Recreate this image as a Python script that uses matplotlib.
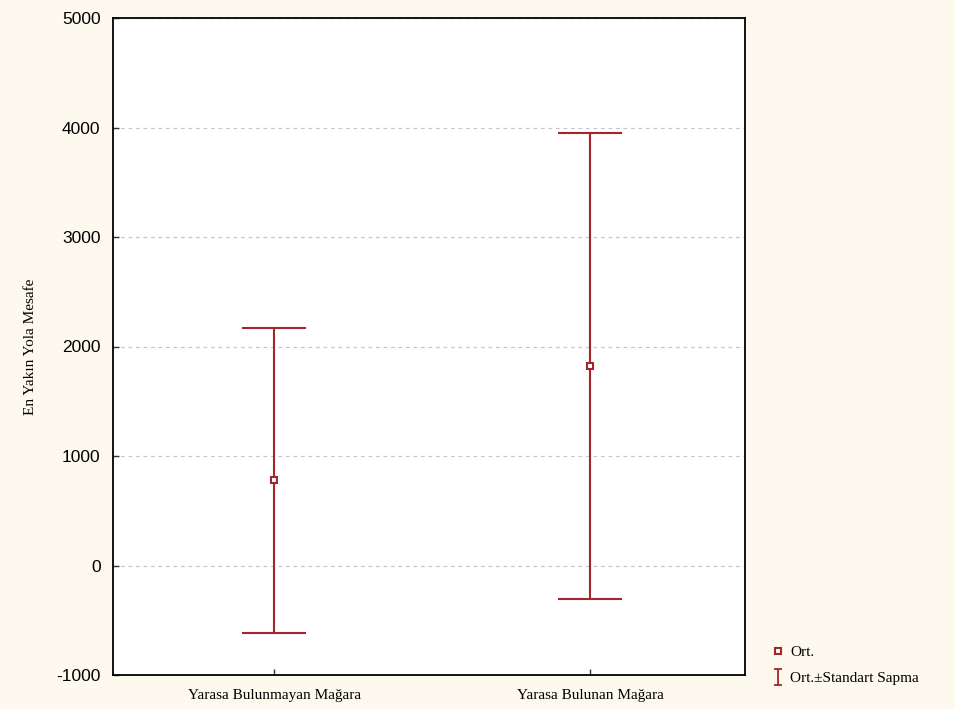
import matplotlib
matplotlib.use('Agg')
import matplotlib.pyplot as plt
from matplotlib.lines import Line2D
from matplotlib.path import Path

# group means and standard deviations
groups = ['Yarasa Bulunmayan Mağara', 'Yarasa Bulunan Mağara']
means = [780, 1818]
sds = [1393, 2128]
yticks = [-1000, 0, 1000, 2000, 3000, 4000, 5000]

RED = '#A3262A'
BG = '#FDF9EE'
SERIF = ['Liberation Serif', 'DejaVu Serif']
SANS = ['Liberation Sans', 'DejaVu Sans']

fig = plt.figure(figsize=(9.55, 7.09), dpi=100, facecolor=BG)
ax = fig.add_axes([113 / 955, 1 - 675 / 709, 632 / 955, 657 / 709])
ax.set_facecolor('white')

x = list(range(len(groups)))
ax.errorbar(x, means, yerr=sds, fmt='none', ecolor=RED, elinewidth=1.5,
            capsize=23, capthick=1.5, zorder=3)
ax.plot(x, means, ls='none', marker='s', ms=5, mfc='white', mec=RED, mew=1.5, zorder=4)

ax.set_xlim(-0.51, 1.49)
ax.set_ylim(-1000, 5000)
ax.set_yticks(yticks)
ax.set_yticklabels([str(v) for v in yticks], family=SANS, fontsize=12.5)
ax.set_xticks(x)
ax.set_xticklabels(groups, family=SERIF, fontsize=11)
ax.tick_params(axis='both', direction='in', length=4, width=1, color='#333333')
ax.tick_params(axis='y', pad=9)
ax.tick_params(axis='x', pad=10)
ax.yaxis.grid(True, ls=(0, (3, 3)), color='#C8C8C8', lw=0.9)
ax.set_axisbelow(True)
for s in ax.spines.values():
    s.set_linewidth(1.3)
    s.set_color('black')

ax.set_ylabel('En Yakın Yola Mesafe', family=SERIF, fontsize=11, labelpad=14)

# little I-beam for the error bar legend entry
ibeam = Path([(-0.5, 1), (0.5, 1), (0, 1), (0, -1), (-0.5, -1), (0.5, -1)],
             [Path.MOVETO, Path.LINETO, Path.MOVETO, Path.LINETO, Path.MOVETO, Path.LINETO])
handles = [
    Line2D([], [], ls='none', marker='s', ms=5, mfc='white', mec=RED, mew=1.5),
    Line2D([], [], ls='none', marker=ibeam, ms=12, mfc='none', mec=RED, mew=1.3),
]
fig.legend(handles, ['Ort.', 'Ort.±Standart Sapma'], loc='upper left',
           bbox_to_anchor=(758 / 955, 1 - 632 / 709), frameon=False,
           prop={'family': SERIF, 'size': 11}, handlelength=0.8,
           handletextpad=0.4, labelspacing=0.8)

fig.savefig('out.png', dpi=100, facecolor=BG)
